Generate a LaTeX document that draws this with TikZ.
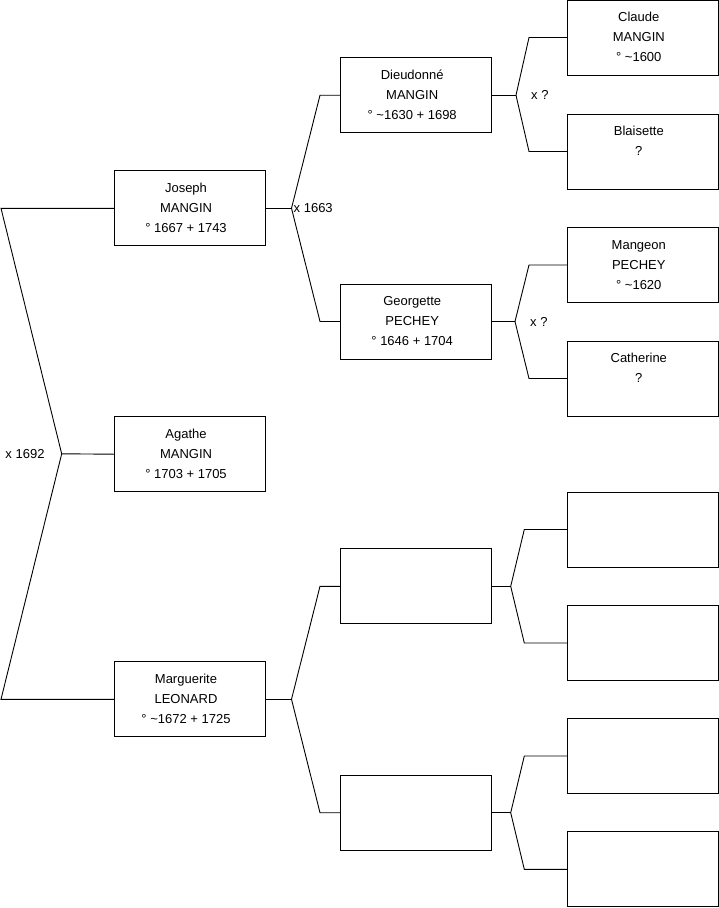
\documentclass[tikz,border=0pt]{standalone}
\usepackage{fontspec}
\setmainfont{Liberation Sans}
\usetikzlibrary{positioning,calc}

\tikzset{
  person/.style={draw, line width=0.9pt, minimum width=151pt, minimum height=75pt,
    inner sep=0pt, align=center, font=\fontsize{13}{20}\selectfont},
  link/.style={line width=0.9pt},
  mariage/.style={inner sep=0pt, font=\fontsize{13}{20}\selectfont}
}
\newcommand{\pers}[3]{\hbox{\strut #1\kern8pt}\\\hbox{#2\kern8pt}\\\hbox{#3\strut\kern8pt}}

\begin{document}
\begin{tikzpicture}[x=1pt,y=-1pt]
    \useasboundingbox (0,0) rectangle (719,908);

    % generation 1 (enfants)
    \node[person] (joseph)     at (190,208.3) {\pers{Joseph}{MANGIN}{° 1667 + 1743}};
    \node[person] (agathe)     at (190,454.2) {\pers{Agathe}{MANGIN}{° 1703 + 1705}};
    \node[person] (marguerite) at (190,699.3) {\pers{Marguerite}{LEONARD}{° \textasciitilde1672 + 1725}};

    % generation 2
    \node[person] (dieudonne) at (416.2,95.2)  {\pers{Dieudonné}{MANGIN}{° \textasciitilde1630 + 1698}};
    \node[person] (georgette) at (416.2,321.5) {\pers{Georgette}{PECHEY}{° 1646 + 1704}};
    \node[person] (pereml)    at (416.2,586.3) {};
    \node[person] (mereml)    at (416.2,812.7) {};

    % generation 3
    \node[person] (claude)    at (642.8,37.5)  {\pers{Claude}{MANGIN}{° \textasciitilde1600}};
    \node[person] (blaisette) at (642.8,151.5) {\pers{Blaisette}{?}{}};
    \node[person] (mangeon)   at (642.8,265)   {\pers{Mangeon}{PECHEY}{° \textasciitilde1620}};
    \node[person] (catherine) at (642.8,378.5) {\pers{Catherine}{?}{}};
    \node[person] (gpa)       at (642.8,529.5) {};
    \node[person] (gpb)       at (642.8,643)   {};
    \node[person] (gpc)       at (642.8,756)   {};
    \node[person] (gpd)       at (642.8,869.3) {};

    % fourches
    \coordinate (racine) at (61.7,453.8);
    \coordinate (hautg)  at (1,208.3);
    \coordinate (basg)   at (1,699.3);
    \coordinate (fj) at (291.5,208.3);
    \coordinate (fm) at (291.5,699.3);
    \coordinate (fd) at (516,95.2);
    \coordinate (fg) at (515,321.5);
    \coordinate (fp) at (510.7,586.3);
    \coordinate (fq) at (510.7,812.7);

    \draw[link] (joseph.west) -- (hautg) -- (racine) -- (basg) -- (marguerite.west);
    \draw[link] (racine) -- (agathe.west);
    \node[mariage, left=17pt of racine] (m1692) {x 1692};

    \draw[link] (joseph.east) -- (fj);
    \draw[link] (dieudonne.west) -- (dieudonne.west -| 320,0) -- (fj)
                -- (georgette.west -| 320,0) -- (georgette.west);
    \node[mariage, right=2pt of fj] (m1663) {x 1663};

    \draw[link] (marguerite.east) -- (fm);
    \draw[link] (pereml.west) -- (pereml.west -| 320,0) -- (fm)
                -- (mereml.west -| 320,0) -- (mereml.west);

    \draw[link] (dieudonne.east) -- (fd);
    \draw[link] (claude.west) -- (claude.west -| 529,0) -- (fd)
                -- (blaisette.west -| 529,0) -- (blaisette.west);
    \node[mariage, right=15pt of fd] (mdq) {x ?};

    \draw[link] (georgette.east) -- (fg);
    \draw[link] (mangeon.west) -- (mangeon.west -| 529,0) -- (fg)
                -- (catherine.west -| 529,0) -- (catherine.west);
    \node[mariage, right=15pt of fg] (mgq) {x ?};

    \draw[link] (pereml.east) -- (fp);
    \draw[link] (gpa.west) -- (gpa.west -| 524.3,0) -- (fp)
                -- (gpb.west -| 524.3,0) -- (gpb.west);

    \draw[link] (mereml.east) -- (fq);
    \draw[link] (gpc.west) -- (gpc.west -| 524.3,0) -- (fq)
                -- (gpd.west -| 524.3,0) -- (gpd.west);
\end{tikzpicture}
\end{document}
